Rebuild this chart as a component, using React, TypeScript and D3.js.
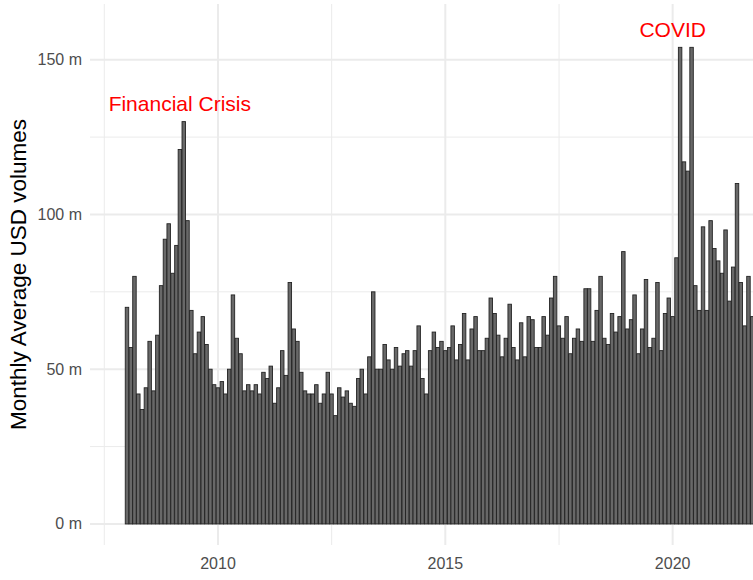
import * as d3 from 'd3';
import { useEffect } from 'react';

// monthly average USD volumes (millions), Jan..Dec
const years = [2008, 2009, 2010, 2011, 2012, 2013, 2014, 2015, 2016, 2017, 2018, 2019, 2020, 2021];
const vol2008 = [70, 57, 80, 42, 37, 44, 59, 43, 61, 77, 92, 97];
const vol2009 = [81, 90, 121, 130, 98, 69, 55, 62, 67, 58, 50, 45];
const vol2010 = [44, 46, 42, 50, 74, 60, 55, 43, 45, 43, 45, 42];
const vol2011 = [49, 47, 51, 39, 44, 56, 48, 78, 63, 59, 49, 43];
const vol2012 = [42, 42, 45, 39, 42, 49, 42, 35, 44, 41, 43, 39];
const vol2013 = [38, 47, 50, 42, 54, 75, 50, 50, 58, 53, 50, 57];
const vol2014 = [51, 55, 56, 51, 56, 64, 47, 42, 56, 62, 57, 59];
const vol2015 = [56, 57, 64, 53, 58, 68, 53, 63, 67, 56, 56, 60];
const vol2016 = [73, 68, 61, 54, 60, 71, 57, 53, 65, 54, 67, 66];
const vol2017 = [57, 57, 67, 61, 73, 80, 64, 60, 67, 55, 60, 63];
const vol2018 = [59, 76, 76, 59, 69, 80, 60, 58, 68, 62, 67, 88];
const vol2019 = [63, 66, 74, 55, 63, 79, 57, 60, 78, 56, 68, 73];
const vol2020 = [67, 86, 154, 117, 114, 154, 77, 69, 96, 69, 98, 89];
const vol2021 = [85, 81, 95, 72, 83, 110, 78, 64, 80, 67, 70];
const volumesByYear = [vol2008, vol2009, vol2010, vol2011, vol2012, vol2013, vol2014,
    vol2015, vol2016, vol2017, vol2018, vol2019, vol2020, vol2021];

const yTicks = [0, 50, 100, 150];
const yMinorTicks = [25, 75, 125];
const xTickYears = [2010, 2015, 2020];
const xMinorYears = [2007.5, 2012.5, 2017.5, 2022.5];

// text annotations: label, year (decimal), value
const annotationLabels = ['Financial Crisis', 'COVID'];
const annotationYears = [2009.16, 2020.0];
const annotationValues = [135.7, 159.6];

const W = 753, H = 580;
const panel = { left: 90, right: 800, top: 4, bottom: 545 };
const FONT = '"Liberation Sans", Arial, Helvetica, sans-serif';

const fromDecimal = (y: number) => {
    const yr = Math.floor(y);
    const start = new Date(yr, 0, 1).getTime();
    const end = new Date(yr + 1, 0, 1).getTime();
    return new Date(start + (y - yr) * (end - start));
};

export default function App() {
    useEffect(() => {
        document.body.style.margin = '0';
    }, []);

    const data = volumesByYear.flatMap((vals, i) =>
        vals.map((v, m) => ({ date: new Date(years[i], m, 1), value: v })));

    const x = d3.scaleTime()
        .domain([fromDecimal(2007.186), fromDecimal(2022.8)])
        .range([panel.left, panel.right]);
    const y = d3.scaleLinear().domain([-6.8, 168]).range([panel.bottom, panel.top]);

    const monthW = x(new Date(2010, 1, 1)) - x(new Date(2010, 0, 1));
    const bw = monthW * 0.9;

    return (
        <svg width={W} height={H} style={{ display: 'block', background: '#fff' }}>
            {/* minor grid */}
            {yMinorTicks.map(t => (
                <line key={'ym' + t} x1={panel.left} x2={W} y1={y(t)} y2={y(t)}
                    stroke="#ebebeb" strokeWidth={1} />
            ))}
            {xMinorYears.map(t => (
                <line key={'xm' + t} x1={x(fromDecimal(t))} x2={x(fromDecimal(t))}
                    y1={panel.top} y2={panel.bottom} stroke="#ebebeb" strokeWidth={1} />
            ))}
            {/* major grid */}
            {yTicks.map(t => (
                <line key={'y' + t} x1={panel.left} x2={W} y1={y(t)} y2={y(t)}
                    stroke="#ebebeb" strokeWidth={2} />
            ))}
            {xTickYears.map(t => (
                <line key={'x' + t} x1={x(new Date(t, 0, 1))} x2={x(new Date(t, 0, 1))}
                    y1={panel.top} y2={panel.bottom} stroke="#ebebeb" strokeWidth={2} />
            ))}

            {/* bars */}
            <g>
                {data.map((d, i) => (
                    <rect key={i}
                        x={x(d.date) - bw / 2}
                        y={y(d.value)}
                        width={bw}
                        height={y(0) - y(d.value)}
                        fill="#686868"
                        stroke="#232323"
                        strokeWidth={0.9} />
                ))}
            </g>

            {/* annotations */}
            {annotationLabels.map((lab, i) => (
                <text key={lab} x={x(fromDecimal(annotationYears[i]))} y={y(annotationValues[i])}
                    textAnchor="middle" dominantBaseline="central"
                    fontFamily={FONT} fontSize={21} fill="#ff0000">{lab}</text>
            ))}

            {/* y axis labels */}
            {yTicks.map(t => (
                <text key={'yl' + t} x={panel.left - 8} y={y(t)} textAnchor="end"
                    dominantBaseline="central" fontFamily={FONT} fontSize={16} fill="#4d4d4d">
                    {t} m
                </text>
            ))}
            {/* x axis labels */}
            {xTickYears.map(t => (
                <text key={'xl' + t} x={x(new Date(t, 0, 1))} y={563} textAnchor="middle"
                    dominantBaseline="central" fontFamily={FONT} fontSize={16} fill="#4d4d4d">
                    {t}
                </text>
            ))}

            <text transform={`translate(18, ${(panel.top + panel.bottom) / 2}) rotate(-90)`}
                textAnchor="middle" dominantBaseline="central" fontFamily={FONT} fontSize={22.5}
                fill="#000">
                Monthly Average USD volumes
            </text>
        </svg>
    );
}
